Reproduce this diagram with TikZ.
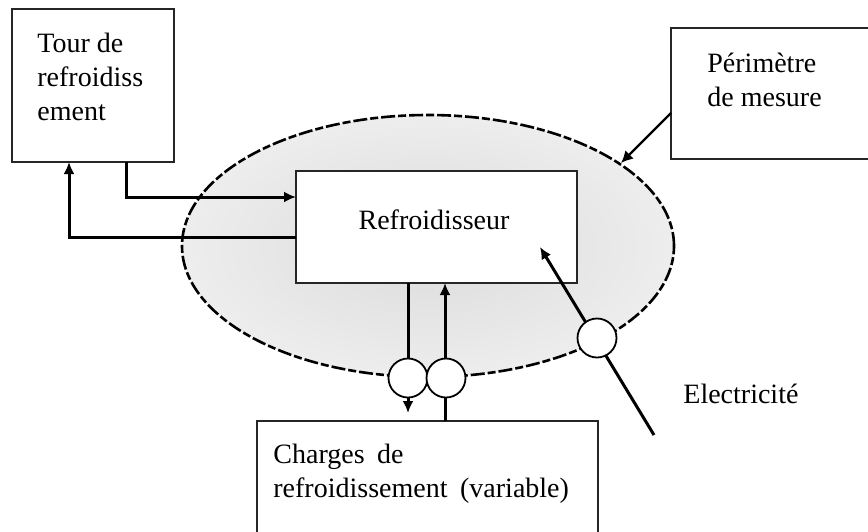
\documentclass[tikz,border=0pt]{standalone}
\usepackage{fontspec}
\setmainfont{Liberation Serif}
\usetikzlibrary{arrows.meta}
\begin{document}
\begin{tikzpicture}[x=0.5pt,y=-0.5pt,
  box/.style={draw=black!85,line width=0.9pt,fill=white},
  lbl/.style={inner sep=0pt,anchor=north west,align=left,font=\fontsize{14}{16.8}\selectfont},
  flow/.style={line width=1.5pt,-{Latex[length=6pt,width=5.5pt]}},
  meter/.style={circle,draw=black,line width=0.9pt,fill=white,minimum size=19.5pt,inner sep=0pt},
  perim/.style={line width=1.3pt,dash pattern=on 7pt off 1.5pt on 4pt off 1.5pt}]
\useasboundingbox (0,0) rectangle (868,531);
\clip (0,0) rectangle (868,531);
% measurement perimeter
\shade[inner color=gray!28,outer color=gray!14] (428,246) ellipse [x radius=123pt,y radius=65.5pt];
\draw[perim] (428,246) ellipse [x radius=123pt,y radius=65.5pt];
\coordinate (pp) at (621,163);
% boxes
\path[box] (12,9) rectangle (174,162);
\node[inner sep=0pt] (tour) at (93,85.5) {};
\path[box] (671,28) rectangle (880,159);
\node[inner sep=0pt] (perimbox) at (770,93) {};
\node[box,minimum width=140.5pt,minimum height=56pt,inner sep=0pt] (ref) at (436.5,227) {};
\path[box] (257,421) rectangle (598,560);
\node[inner sep=0pt] (charges) at (427.5,490) {};
% texts
\node[lbl] (t1) at (37,33) {Tour de\\refroidiss\\ement};
\node[lbl] (t2) at (707,53) {Périmètre\\de mesure};
\node[font=\fontsize{14}{16.8}\selectfont,inner sep=0pt,anchor=base] (t3) at (434,229) {Refroidisseur};
\node[lbl] (t4) at (273,444) {Charges\hspace{0.2em} de\\refroidissement\hspace{0.2em} (variable)};
\node[font=\fontsize{14}{16.8}\selectfont,inner sep=0pt,anchor=base west] (t5) at (683,403) {Electricité};
% connectors cooling tower
\coordinate (a1) at (126,162);
\coordinate (a2) at (126,197);
\coordinate (a3) at (296,197);
\draw[flow] (a1) -- (a2) -- (a3);
\coordinate (b1) at (296,237);
\coordinate (b2) at (69,237);
\coordinate (b3) at (69,162);
\draw[flow] (b1) -- (b2) -- (b3);
% loads
\coordinate (c1) at (408,283);
\coordinate (c2) at (408,413);
\draw[flow] (c1) -- (c2);
\coordinate (d1) at (445,421);
\coordinate (d2) at (445,283);
\draw[flow] (d1) -- (d2);
% electricity
\coordinate (e1) at (654,435);
\coordinate (e2) at (540,247);
\draw[flow] (e1) -- (e2);
% perimeter pointer
\coordinate (p1) at (671,113);
\draw[line width=1.1pt,-{Latex[length=6pt,width=6pt]}] (p1) -- (pp);
% meters
\node[meter] (m1) at (408,378) {};
\node[meter] (m2) at (446,378) {};
\node[meter] (m3) at (597,338) {};
\end{tikzpicture}
\end{document}
